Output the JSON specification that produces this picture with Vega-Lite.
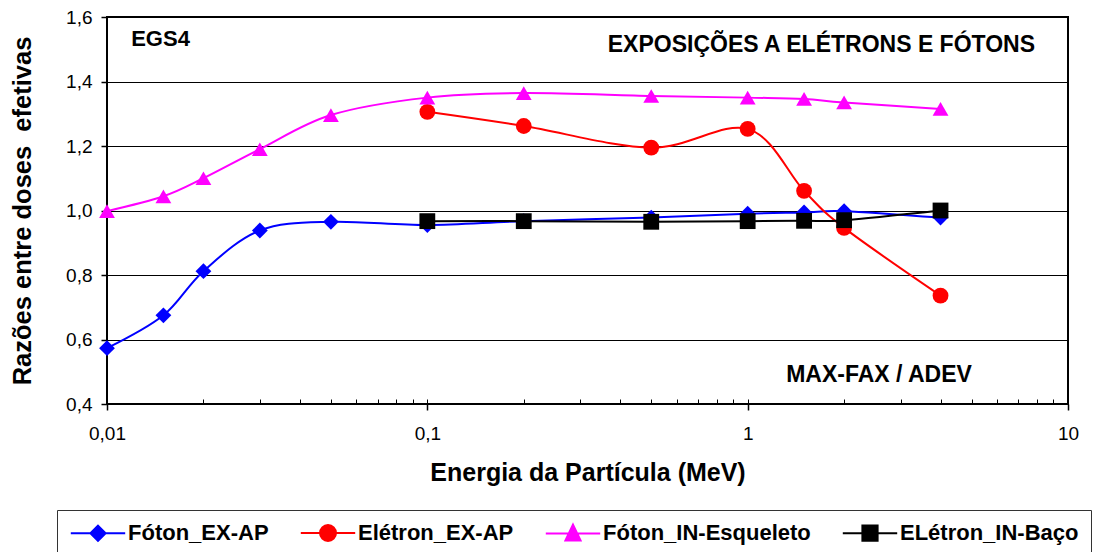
{
  "$schema": "https://vega.github.io/schema/vega-lite/v6.json",
  "width": 961,
  "height": 387,
  "autosize": {"type": "none"},
  "padding": {"left": 107, "top": 17, "right": 26, "bottom": 148},
  "background": "white",
  "config": {
    "view": {"stroke": "black", "strokeWidth": 2},
    "font": "Liberation Sans",
    "axisY": {
      "labelExpr": "replace(format(datum.value, '.1f'), '.', ',')",
      "grid": true, "gridColor": "black", "gridWidth": 1,
      "domain": false, "tickSize": 6, "tickColor": "black", "tickWidth": 1.5,
      "labelPadding": 9, "labelFontSize": 19, "labelColor": "black",
      "labelFlush": false, "labelOverlap": false,
      "titleFontSize": 25.5, "titleFontWeight": "bold", "titleColor": "black",
      "titlePadding": 30
    },
    "legend": {
      "orient": "none",
      "legendX": -50,
      "legendY": 493,
      "direction": "horizontal",
      "columns": 4,
      "padding": 12,
      "strokeColor": "#333333",
      "fillColor": "white",
      "labelFont": "Liberation Sans",
      "labelFontSize": 22,
      "labelFontWeight": "bold",
      "labelColor": "black",
      "labelLimit": 400,
      "symbolSize": 256,
      "symbolStrokeWidth": 2,
      "symbolOffset": 18,
      "labelOffset": 19,
      "columnPadding": 27
    }
  },
  "datasets": {
    "pts": [
      {"E": 0.01, "v": 0.573, "serie": "Fóton_EX-AP"},
      {"E": 0.015, "v": 0.675, "serie": "Fóton_EX-AP"},
      {"E": 0.02, "v": 0.812, "serie": "Fóton_EX-AP"},
      {"E": 0.03, "v": 0.938, "serie": "Fóton_EX-AP"},
      {"E": 0.05, "v": 0.965, "serie": "Fóton_EX-AP"},
      {"E": 0.1, "v": 0.955, "serie": "Fóton_EX-AP"},
      {"E": 0.2, "v": 0.967, "serie": "Fóton_EX-AP"},
      {"E": 0.5, "v": 0.978, "serie": "Fóton_EX-AP"},
      {"E": 1, "v": 0.99, "serie": "Fóton_EX-AP"},
      {"E": 1.5, "v": 0.994, "serie": "Fóton_EX-AP"},
      {"E": 2, "v": 0.998, "serie": "Fóton_EX-AP"},
      {"E": 4, "v": 0.978, "serie": "Fóton_EX-AP"},
      {"E": 0.1, "v": 1.306, "serie": "Elétron_EX-AP"},
      {"E": 0.2, "v": 1.262, "serie": "Elétron_EX-AP"},
      {"E": 0.5, "v": 1.195, "serie": "Elétron_EX-AP"},
      {"E": 1, "v": 1.253, "serie": "Elétron_EX-AP"},
      {"E": 1.5, "v": 1.061, "serie": "Elétron_EX-AP"},
      {"E": 2, "v": 0.946, "serie": "Elétron_EX-AP"},
      {"E": 4, "v": 0.736, "serie": "Elétron_EX-AP"},
      {"E": 0.01, "v": 0.998, "serie": "Fóton_IN-Esqueleto"},
      {"E": 0.015, "v": 1.044, "serie": "Fóton_IN-Esqueleto"},
      {"E": 0.02, "v": 1.1, "serie": "Fóton_IN-Esqueleto"},
      {"E": 0.03, "v": 1.19, "serie": "Fóton_IN-Esqueleto"},
      {"E": 0.05, "v": 1.296, "serie": "Fóton_IN-Esqueleto"},
      {"E": 0.1, "v": 1.35, "serie": "Fóton_IN-Esqueleto"},
      {"E": 0.2, "v": 1.364, "serie": "Fóton_IN-Esqueleto"},
      {"E": 0.5, "v": 1.355, "serie": "Fóton_IN-Esqueleto"},
      {"E": 1, "v": 1.35, "serie": "Fóton_IN-Esqueleto"},
      {"E": 1.5, "v": 1.346, "serie": "Fóton_IN-Esqueleto"},
      {"E": 2, "v": 1.335, "serie": "Fóton_IN-Esqueleto"},
      {"E": 4, "v": 1.315, "serie": "Fóton_IN-Esqueleto"},
      {"E": 0.1, "v": 0.967, "serie": "ELétron_IN-Baço"},
      {"E": 0.2, "v": 0.967, "serie": "ELétron_IN-Baço"},
      {"E": 0.5, "v": 0.965, "serie": "ELétron_IN-Baço"},
      {"E": 1, "v": 0.967, "serie": "ELétron_IN-Baço"},
      {"E": 1.5, "v": 0.968, "serie": "ELétron_IN-Baço"},
      {"E": 2, "v": 0.97, "serie": "ELétron_IN-Baço"},
      {"E": 4, "v": 1.0, "serie": "ELétron_IN-Baço"}
    ],
    "notesLeft": [
      {"E": 0.0119, "v": 1.51, "txt": "EGS4"}
    ],
    "notesRight": [
      {"E": 7.89, "v": 1.491, "txt": "EXPOSIÇÕES A ELÉTRONS E FÓTONS"},
      {"E": 5.01, "v": 0.468, "txt": "MAX-FAX / ADEV"}
    ]
  },
  "layer": [
    {
      "data": {"name": "pts"},
      "mark": {"type": "line", "interpolate": "cardinal", "tension": 0, "strokeWidth": 2},
      "encoding": {
        "x": {
          "field": "E", "type": "quantitative",
          "scale": {"type": "log", "domain": [0.01, 10]},
          "axis": {
            "orient": "bottom",
            "values": [0.01, 0.1, 1, 10],
            "labelExpr": "replace(toString(datum.value), '.', ',')",
            "grid": false, "domain": false,
            "tickSize": 6, "tickColor": "black", "tickWidth": 1.5,
            "labelPadding": 14, "labelFontSize": 19, "labelColor": "black",
            "labelFlush": false, "labelOverlap": false,
            "title": "Energia da Partícula (MeV)",
            "titleFontSize": 25, "titleFontWeight": "bold", "titleColor": "black",
            "titlePadding": 17
          }
        },
        "y": {
          "field": "v", "type": "quantitative",
          "scale": {"domain": [0.4, 1.6]},
          "axis": {"title": "Razões entre doses\u00a0 efetivas", "values": [0.4, 0.6, 0.8, 1.0, 1.2, 1.4, 1.6]}
        },
        "color": {
          "field": "serie", "type": "nominal",
          "scale": {
            "domain": ["Fóton_EX-AP", "Elétron_EX-AP", "Fóton_IN-Esqueleto", "ELétron_IN-Baço"],
            "range": ["#0000FF", "#FF0000", "#FF00FF", "#000000"]
          },
          "legend": {
            "title": null,
            "encoding": {
              "symbols": {
                "shape": {"value": {"expr": "datum.value === 'Fóton_EX-AP' ? 'M-3.4,0H3.4M0,-0.95L0.95,0L0,0.95L-0.95,0Z' : datum.value === 'Elétron_EX-AP' ? 'M-3.4,0H3.4M-1,0A1,1,0,1,0,1,0A1,1,0,1,0,-1,0Z' : datum.value === 'Fóton_IN-Esqueleto' ? 'M-3.4,0H3.4M0,-1.1L0.95,0.9L-0.95,0.9Z' : 'M-3.4,0H3.4M-0.95,-0.95H0.95V0.95H-0.95Z'"}},
                "stroke": {"value": {"expr": "scale('color', datum.value)"}},
                "fill": {"value": {"expr": "scale('color', datum.value)"}},
                "strokeWidth": {"value": 2},
                "opacity": {"value": 1}
              }
            }
          }
        }
      }
    },
    {
      "data": {"name": "pts"},
      "mark": {"type": "point", "filled": true, "size": 250, "opacity": 1, "strokeWidth": 0},
      "encoding": {
        "x": {
          "field": "E", "type": "quantitative",
          "scale": {"type": "log", "domain": [0.01, 10]},
          "axis": {
            "orient": "bottom",
            "values": [0.01, 0.02, 0.03, 0.04, 0.05, 0.06, 0.07, 0.08, 0.09, 0.1, 0.2, 0.3, 0.4, 0.5, 0.6, 0.7, 0.8, 0.9, 1, 2, 3, 4, 5, 6, 7, 8, 9, 10],
            "tickSize": -5, "tickColor": "black", "tickWidth": 1,
            "labels": false, "grid": false, "domain": false, "title": null
          }
        },
        "y": {
          "field": "v", "type": "quantitative",
          "scale": {"domain": [0.4, 1.6]},
          "axis": {"title": "Razões entre doses\u00a0 efetivas", "values": [0.4, 0.6, 0.8, 1.0, 1.2, 1.4, 1.6]}
        },
        "fill": {
          "field": "serie", "type": "nominal",
          "scale": {
            "domain": ["Elétron_EX-AP", "Fóton_EX-AP", "Fóton_IN-Esqueleto", "ELétron_IN-Baço"],
            "range": ["#FF0000", "#0000FF", "#FF00FF", "#000000"]
          },
          "legend": null
        },
        "shape": {
          "field": "serie", "type": "nominal",
          "scale": {
            "domain": ["Elétron_EX-AP", "Fóton_EX-AP", "Fóton_IN-Esqueleto", "ELétron_IN-Baço"],
            "range": ["circle", "diamond", "triangle-up", "square"]
          },
          "legend": null
        }
      }
    },
    {
      "data": {"name": "notesLeft"},
      "mark": {"type": "text", "align": "left", "baseline": "alphabetic", "fontSize": 22, "fontWeight": "bold", "font": "Liberation Sans", "color": "black"},
      "encoding": {
        "x": {"field": "E", "type": "quantitative", "scale": {"type": "log", "domain": [0.01, 10]}, "axis": null},
        "y": {
          "field": "v", "type": "quantitative",
          "scale": {"domain": [0.4, 1.6]},
          "axis": {"title": "Razões entre doses\u00a0 efetivas", "values": [0.4, 0.6, 0.8, 1.0, 1.2, 1.4, 1.6]}
        },
        "text": {"field": "txt"}
      }
    },
    {
      "data": {"name": "notesRight"},
      "mark": {"type": "text", "align": "right", "baseline": "alphabetic", "fontSize": 23, "fontWeight": "bold", "font": "Liberation Sans", "color": "black"},
      "encoding": {
        "x": {"field": "E", "type": "quantitative", "scale": {"type": "log", "domain": [0.01, 10]}, "axis": null},
        "y": {
          "field": "v", "type": "quantitative",
          "scale": {"domain": [0.4, 1.6]},
          "axis": {"title": "Razões entre doses\u00a0 efetivas", "values": [0.4, 0.6, 0.8, 1.0, 1.2, 1.4, 1.6]}
        },
        "text": {"field": "txt"}
      }
    }
  ],
  "resolve": {"axis": {"x": "independent"}}
}
